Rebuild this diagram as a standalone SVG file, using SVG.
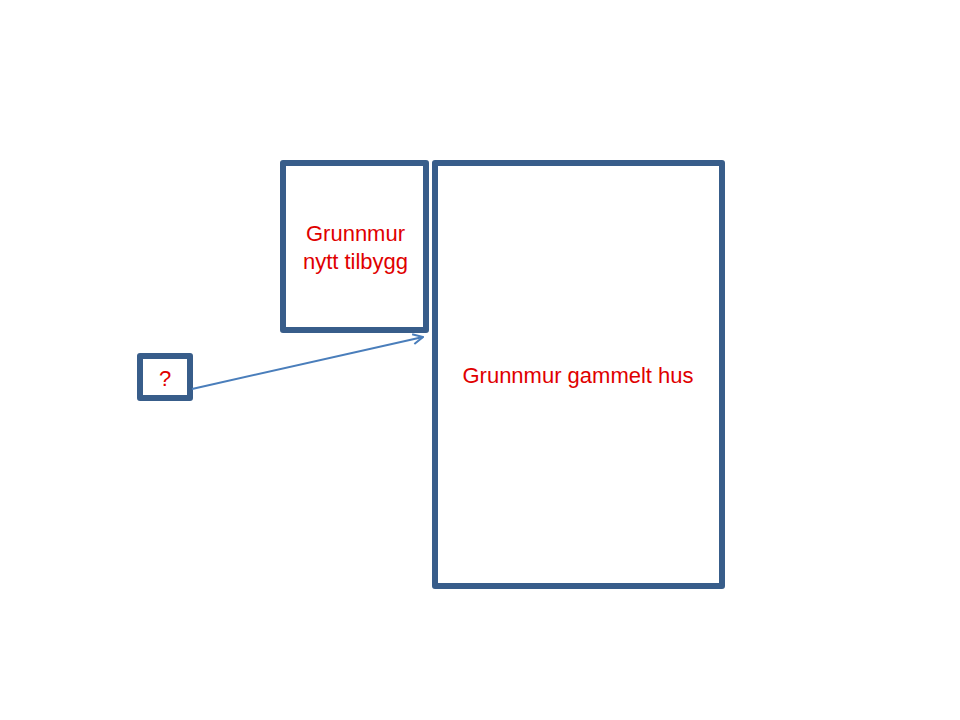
<svg xmlns="http://www.w3.org/2000/svg" width="960" height="720" viewBox="0 0 960 720">
<style>
.box{fill:#ffffff;stroke:#385d8a;stroke-width:6;stroke-linejoin:round}
.lbl{font-family:"Liberation Sans",Arial,sans-serif;font-size:22px;fill:#e00000;text-anchor:middle}
.conn{stroke:#4a7ebb;stroke-width:2;fill:none}
</style>
<defs>
<marker id="arr" viewBox="0 0 12 12" refX="11" refY="6" markerWidth="12" markerHeight="12" markerUnits="userSpaceOnUse" orient="auto">
<path d="M1,1 L11,6 L1,11" fill="none" stroke="#4a7ebb" stroke-width="2"/>
</marker>
</defs>
<rect width="960" height="720" fill="#ffffff"/>
<g id="node-tilbygg">
<rect class="box" x="283" y="163" width="143" height="167"/>
<text class="lbl" x="355.5" y="241">Grunnmur</text>
<text class="lbl" x="355.5" y="269">nytt tilbygg</text>
</g>
<g id="node-gammelt">
<rect class="box" x="435" y="163" width="287" height="423"/>
<text class="lbl" x="578" y="383">Grunnmur gammelt hus</text>
</g>
<g id="node-q">
<rect class="box" x="140" y="356" width="50" height="42"/>
<text class="lbl" x="165" y="386">?</text>
</g>
<g id="connectors">
<line class="conn" x1="192" y1="389" x2="423" y2="337" marker-end="url(#arr)"/>
</g>
</svg>
